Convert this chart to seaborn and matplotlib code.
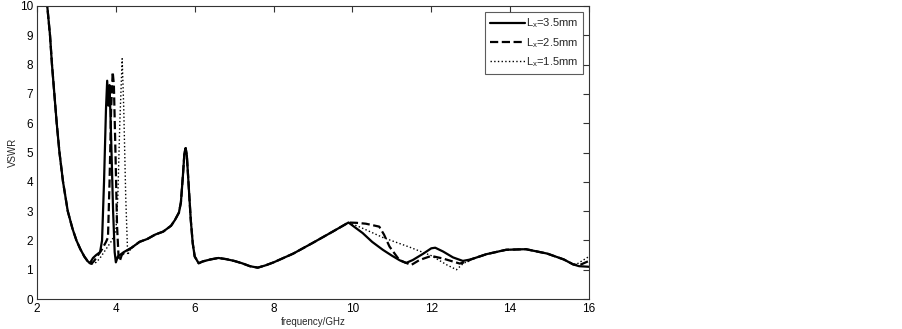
import numpy as np
import pandas as pd
import matplotlib
matplotlib.use('Agg')
import matplotlib.pyplot as plt
import seaborn as sns

# 공통 구간 데이터 (세 곡선이 겹치는 부분)
f_low = [2.20, 2.26, 2.33, 2.38, 2.44, 2.50, 2.57, 2.66, 2.78, 2.90, 3.00, 3.10, 3.20, 3.28, 3.34]
v_low = [10.6, 10.0, 9.0, 8.0, 7.0, 6.0, 5.0, 4.0, 3.0, 2.4, 2.0, 1.7, 1.45, 1.3, 1.22]

f_mid = [4.40, 4.60, 4.80, 5.00, 5.20, 5.40, 5.50, 5.60, 5.65, 5.70, 5.74, 5.77, 5.80, 5.85, 5.90,
         5.95, 6.00, 6.10, 6.20, 6.40, 6.60, 6.80, 7.00, 7.20, 7.40, 7.60, 7.80, 8.00, 8.50, 9.00, 9.50, 9.90]
v_mid = [1.75, 1.95, 2.05, 2.20, 2.30, 2.50, 2.70, 2.95, 3.30, 4.20, 5.00, 5.15, 4.90, 3.80, 2.70,
         1.90, 1.45, 1.22, 1.28, 1.35, 1.40, 1.36, 1.30, 1.22, 1.12, 1.07, 1.15, 1.25, 1.55, 1.92, 2.30, 2.61]

f_high = [13.0, 13.4, 13.9, 14.4, 14.94, 15.36, 15.6]
v_high = [1.35, 1.53, 1.68, 1.70, 1.55, 1.35, 1.18]

# Lx=3.5mm
f35_a = [3.42, 3.50, 3.60, 3.65, 3.70, 3.75, 3.78, 3.81, 3.84, 3.88, 3.93, 3.97, 4.00, 4.05, 4.10, 4.20]
v35_a = [1.40, 1.50, 1.60, 2.00, 4.00, 6.50, 7.45, 6.60, 7.30, 5.50, 3.00, 1.60, 1.25, 1.45, 1.50, 1.60]
f35_b = [10.26, 10.50, 10.77, 11.00, 11.20, 11.36, 11.53, 11.80, 12.00, 12.10, 12.30, 12.55, 12.80]
v35_b = [2.25, 1.95, 1.68, 1.48, 1.32, 1.23, 1.33, 1.55, 1.73, 1.75, 1.62, 1.42, 1.30]
f35_c = [15.75, 16.0]
v35_c = [1.12, 1.10]

# Lx=2.5mm
f25_a = [3.38, 3.45, 3.55, 3.65, 3.75, 3.80, 3.84, 3.88, 3.92, 3.95, 3.99, 4.03, 4.07, 4.10, 4.15, 4.25]
v25_a = [1.20, 1.30, 1.50, 1.70, 1.95, 2.10, 4.00, 6.50, 7.75, 7.30, 5.00, 2.50, 1.40, 1.30, 1.50, 1.62]
f25_b = [10.10, 10.34, 10.68, 10.80, 10.94, 11.19, 11.49, 11.70, 12.00, 12.30, 12.72, 12.90]
v25_b = [2.60, 2.57, 2.47, 2.20, 1.79, 1.33, 1.16, 1.33, 1.47, 1.38, 1.21, 1.27]
f25_c = [15.75, 16.0]
v25_c = [1.15, 1.30]

# Lx=1.5mm
f15_a = [3.40, 3.50, 3.60, 3.70, 3.80, 3.90, 4.00, 4.05, 4.10, 4.16, 4.20, 4.25, 4.30, 4.35]
v15_a = [1.20, 1.25, 1.40, 1.60, 1.80, 2.00, 2.30, 3.50, 6.00, 8.20, 6.50, 3.50, 1.50, 1.65]
f15_b = [10.20, 10.77, 11.45, 12.00, 12.40, 12.64, 12.80]
v15_b = [2.45, 2.10, 1.77, 1.48, 1.16, 1.00, 1.20]
f15_c = [15.70, 16.0]
v15_c = [1.20, 1.45]

labels = [r'L$_\mathregular{x}$=3.5mm', r'L$_\mathregular{x}$=2.5mm', r'L$_\mathregular{x}$=1.5mm']
styles = ['-', '--', ':']
widths = [1.6, 1.6, 1.0]

series = [
    (f_low + f35_a + f_mid + f35_b + f_high + f35_c, v_low + v35_a + v_mid + v35_b + v_high + v35_c),
    (f_low + f25_a + f_mid + f25_b + f_high + f25_c, v_low + v25_a + v_mid + v25_b + v_high + v25_c),
    (f_low + f15_a + f_mid + f15_b + f_high + f15_c, v_low + v15_a + v_mid + v15_b + v_high + v15_c),
]

sns.set_style('white')
plt.rcParams['font.family'] = ['Liberation Sans', 'DejaVu Sans']

fig = plt.figure(figsize=(9.03, 3.29), dpi=100)
ax = fig.add_axes([37 / 903, 30 / 329, 552 / 903, 293 / 329])

for (f, v), lab, ls, lw in zip(series, labels, styles, widths):
    df = pd.DataFrame({'f': f, 'v': v})
    sns.lineplot(data=df, x='f', y='v', ax=ax, color='k', linestyle=ls, linewidth=lw,
                 label=lab, estimator=None, sort=False)

ax.set_xlim(2, 16)
ax.set_ylim(0, 10)
ax.set_xticks(range(2, 17, 2))
ax.set_yticks(range(0, 11))
ax.tick_params(direction='in', top=True, right=True, length=4, labelsize=8.5, pad=3,
               width=0.8, colors='#333333', labelcolor='k')
for s in ax.spines.values():
    s.set_color('#333333')
    s.set_linewidth(0.8)

ax.set_xlabel('frequency/GHz', fontsize=7, labelpad=1.5)
ax.set_ylabel('VSWR', fontsize=7, labelpad=1.5)

leg = ax.legend(loc='upper right', fontsize=8, frameon=True, fancybox=False,
                edgecolor='#333333', handlelength=3.2, borderaxespad=0.55, labelspacing=0.5,
                handletextpad=0.1, markerfirst=True)
leg.get_frame().set_linewidth(0.8)

plt.savefig('out.png', dpi=100)
